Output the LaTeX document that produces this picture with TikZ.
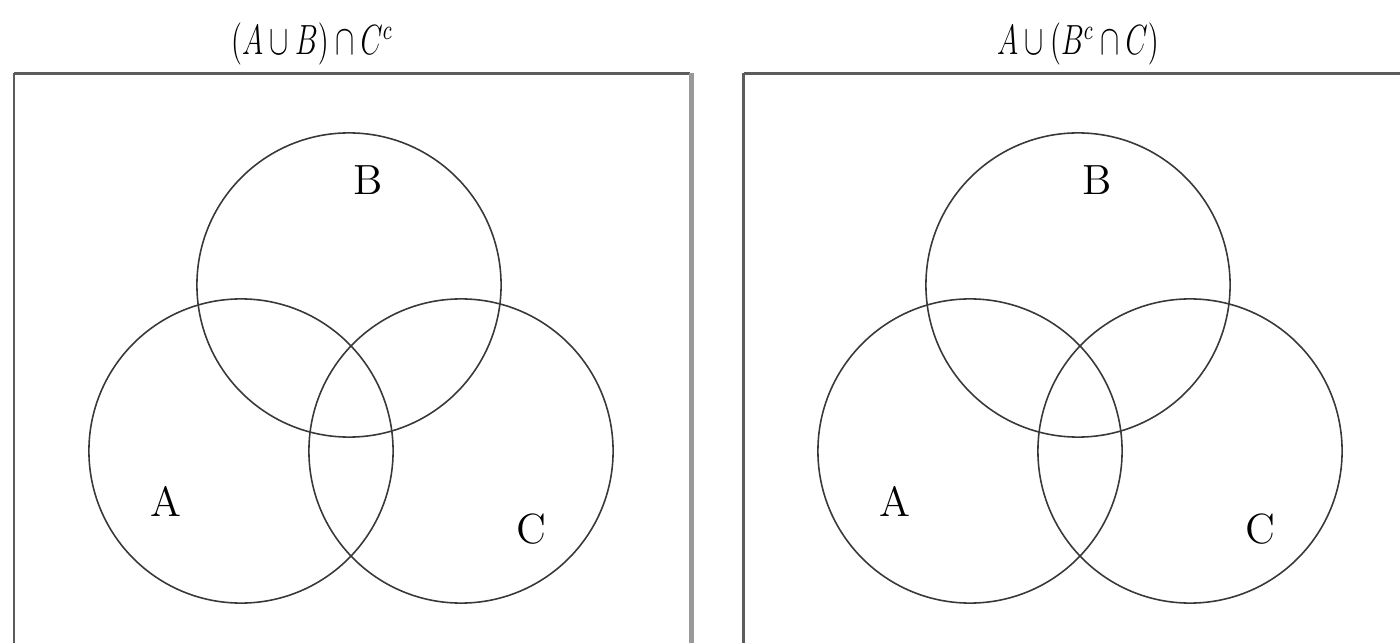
\documentclass[tikz,border=0pt]{standalone}
\usepackage{amssymb}
\begin{document}
\begin{tikzpicture}[x=0.01cm,y=-0.01cm,
  frame/.style={draw=black!64,line width=0.85pt},
  circ/.style={draw=black!78,line width=0.45pt},
  lab/.style={font=\fontsize{12}{14}\selectfont,inner sep=0pt},
  ttl/.style={font=\fontsize{12}{14}\selectfont,inner sep=0pt}]
\useasboundingbox (0,0) rectangle (1400,643);
\clip (0,0) rectangle (1400,643);
% left panel
\draw[frame] (14,73.5) -- (690,73.5);
\draw[frame] (14,73.5) -- (14,700);
\draw[draw=black!40,line width=1.6pt] (691.5,73.5) -- (691.5,700);
\node[ttl] (t1) at (312,44) {\scalebox{0.68}[1]{$(A\cup B)\cap C^c$}};
\node[circ,circle,minimum size=3.04cm,inner sep=0pt] (cB1) at (349,285) {};
\node[circ,circle,minimum size=3.04cm,inner sep=0pt] (cA1) at (241,451) {};
\node[circ,circle,minimum size=3.04cm,inner sep=0pt] (cC1) at (461,451) {};
\node[lab] (lB1) at (368,180) {B};
\node[lab] (lA1) at (166,501) {A};
\node[lab] (lC1) at (531,529) {C};
% right panel
\draw[frame] (743.5,73.5) -- (1450,73.5);
\draw[frame] (743.5,73.5) -- (743.5,700);
\node[ttl] (t2) at (1078,44) {\scalebox{0.68}[1]{$A\cup(B^c\cap C)$}};
\node[circ,circle,minimum size=3.04cm,inner sep=0pt] (cB2) at (1078,285) {};
\node[circ,circle,minimum size=3.04cm,inner sep=0pt] (cA2) at (970,451) {};
\node[circ,circle,minimum size=3.04cm,inner sep=0pt] (cC2) at (1190,451) {};
\node[lab] (lB2) at (1097,180) {B};
\node[lab] (lA2) at (895,501) {A};
\node[lab] (lC2) at (1260,529) {C};
\end{tikzpicture}
\end{document}
